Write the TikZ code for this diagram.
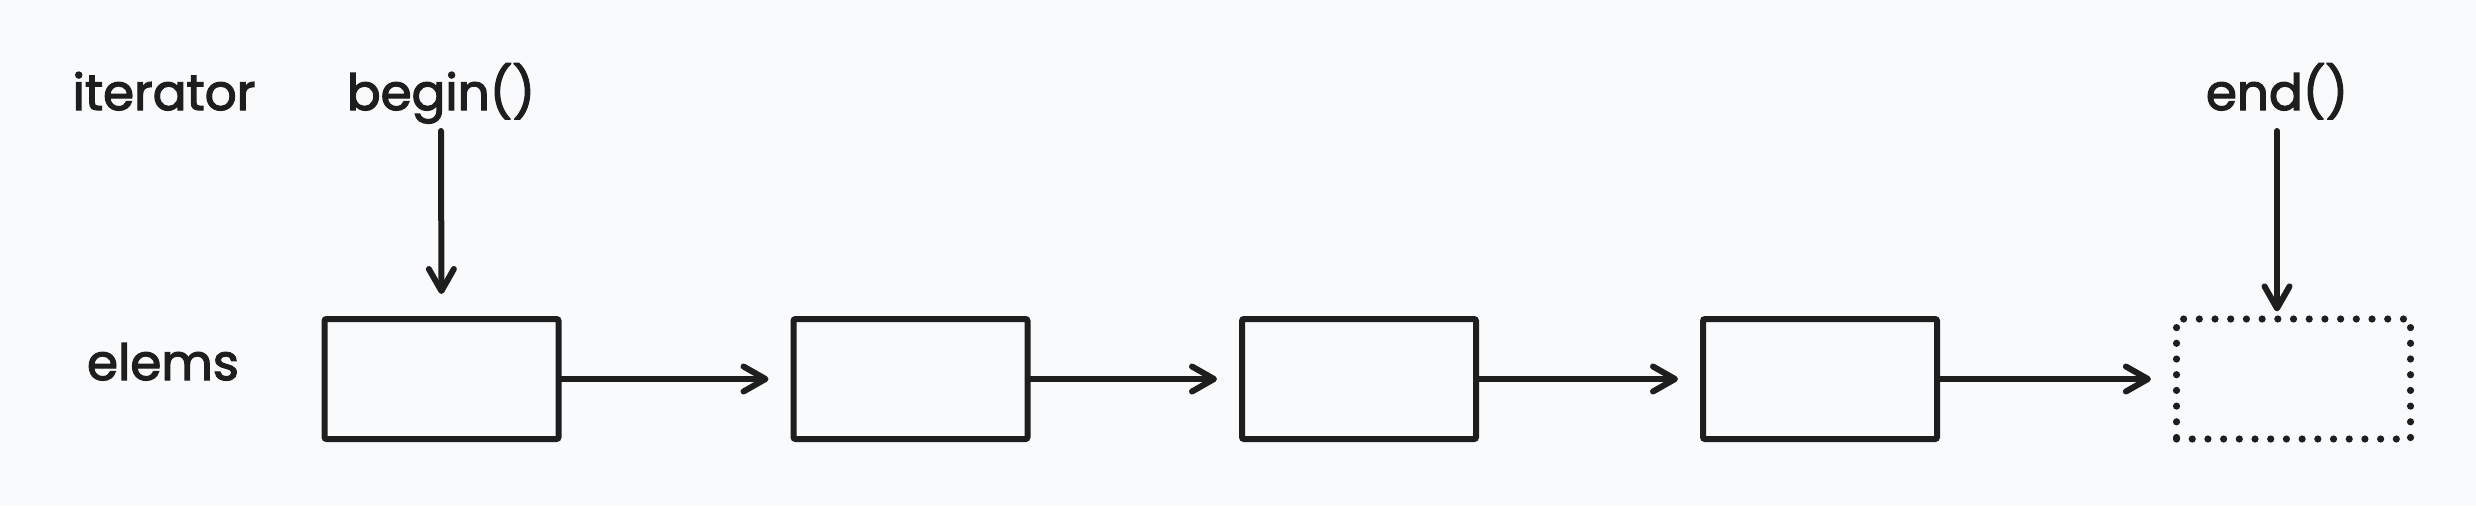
\documentclass[tikz,border=0pt]{standalone}
\usepackage{fontspec}
\setmainfont{Poppins}
\usetikzlibrary{arrows.meta}
\definecolor{bg}{HTML}{F9FAFC}
\definecolor{ink}{HTML}{1E1E1E}
\begin{document}
\begin{tikzpicture}[x=0.5pt,y=-0.5pt,
  every node/.style={inner sep=0pt, outer sep=0pt},
  lbl/.style={font=\fontsize{25}{29}\selectfont\addfontfeatures{FakeBold=2.5}, text=ink, anchor=base},
  cell/.style={draw=ink, line width=3pt, rounded corners=1pt,
    minimum width=117pt, minimum height=60pt, outer sep=1.5pt},
  ghost/.style={draw=ink, line width=3.6pt, line cap=round,
    dash pattern=on 0pt off 7.85pt, minimum width=117pt, minimum height=60pt, outer sep=1.8pt},
  arr/.style={draw=ink, line width=3pt, line cap=round,
    -{Straight Barb[length=11pt, width=12.5pt, line width=3pt, line cap=round, line join=round]}}
]
\fill[bg] (0,0) rectangle (2476,505);
\useasboundingbox (0,0) rectangle (2476,505);

\node[lbl] (iter) at (164,110) {iterator};
\node[lbl] (btxt) at (441,110) {begin()};
\node[lbl] (etxt) at (2277,110) {end()};
\node[lbl] (elems) at (163,380) {elems};

\node[cell] (b1) at (441.5,379) {};
\node[cell] (b2) at (910.5,379) {};
\node[cell] (b3) at (1359,379) {};
\node[cell] (b4) at (1820,379) {};
\node[ghost] (b5) at (2293.5,379) {};

\coordinate (bs) at (441,131);
\coordinate (es) at (2277,131);
\draw[arr, shorten >=11pt] (bs) -- (b1.north);
\draw[arr, shorten >=2pt] (es) -- (es |- b5.north);

\draw[arr, shorten >=11pt] (b1.east) -- (b2.west);
\draw[arr, shorten >=11pt] (b2.east) -- (b3.west);
\draw[arr, shorten >=11pt] (b3.east) -- (b4.west);
\draw[arr, shorten >=11pt] (b4.east) -- (b5.west);
\end{tikzpicture}
\end{document}
